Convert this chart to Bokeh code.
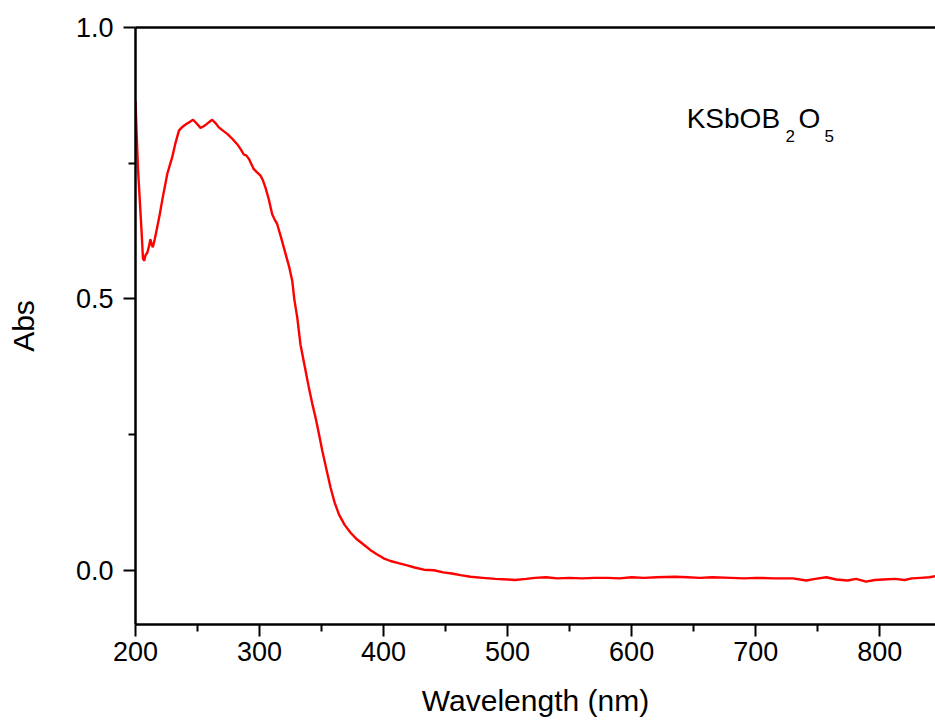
from bokeh.plotting import figure
from bokeh.models import (LinearAxis, FixedTicker, NumeralTickFormatter, Label,
                          Range1d, ColumnDataSource)
from bokeh.embed import file_html
from bokeh.resources import INLINE

wavelength = [200, 201, 202, 203, 204, 205, 206, 207, 208, 209.5, 211, 212, 213, 214,
              215.5, 217.5, 219.5, 221.5, 223.5, 225.6, 227.5, 229.6, 232, 235, 237,
              239, 241, 243, 246.4, 249, 252.4, 255, 257.3, 259.5, 261.8, 264.5, 267.2,
              270.5, 274, 278, 282, 285, 287.3, 289.5, 291.4, 293.5, 295.4, 298, 300.8,
              302.8, 304.8, 307.5, 310.2, 312.2, 314.2, 317.5, 321, 324, 326.4, 328,
              330.4, 333, 336.5, 339.8, 342.5, 345.2, 348, 350.6, 354, 357.3, 360.5,
              364, 368.5, 373.4, 378.5, 384.1, 389.5, 394.9, 400, 405.6, 412, 419, 425,
              432.5, 440.6, 448, 455, 462, 470, 480, 490, 500, 506, 515, 522, 531, 540,
              550, 560, 570, 581, 590, 600, 610, 620, 635, 645, 655, 665, 680, 691, 700,
              715, 730, 740.8, 748, 757, 765, 774, 781, 789, 796, 803, 812.6, 820, 826,
              833, 840, 845]
absorbance = [0.865, 0.80, 0.74, 0.70, 0.66, 0.62, 0.575, 0.570, 0.580, 0.585, 0.598,
              0.610, 0.600, 0.595, 0.610, 0.632, 0.655, 0.681, 0.705, 0.730, 0.745,
              0.761, 0.785, 0.810, 0.815, 0.819, 0.822, 0.825, 0.830, 0.824, 0.815,
              0.818, 0.822, 0.826, 0.830, 0.824, 0.816, 0.810, 0.804, 0.795, 0.785,
              0.775, 0.766, 0.764, 0.758, 0.748, 0.739, 0.733, 0.727, 0.718, 0.705,
              0.683, 0.656, 0.646, 0.638, 0.612, 0.583, 0.558, 0.533, 0.500, 0.466,
              0.416, 0.375, 0.336, 0.307, 0.281, 0.250, 0.220, 0.185, 0.152, 0.125,
              0.103, 0.084, 0.069, 0.057, 0.047, 0.037, 0.029, 0.022, 0.017, 0.013,
              0.009, 0.005, 0.001, 0.000, -0.004, -0.006, -0.009, -0.012, -0.014,
              -0.016, -0.017, -0.018, -0.016, -0.014, -0.013, -0.015, -0.014, -0.015,
              -0.014, -0.014, -0.015, -0.013, -0.014, -0.013, -0.012, -0.013, -0.014,
              -0.013, -0.014, -0.015, -0.014, -0.015, -0.015, -0.019, -0.016, -0.013,
              -0.017, -0.019, -0.016, -0.021, -0.018, -0.017, -0.016, -0.018, -0.015,
              -0.014, -0.013, -0.011]

x_major = [200, 300, 400, 500, 600, 700, 800]
x_minor = [250, 350, 450, 550, 650, 750, 850]
y_major = [0.0, 0.5, 1.0]
y_minor = [0.25, 0.75]

FONT = "Liberation Sans"

p = figure(width=935, height=724, output_backend="svg", toolbar_location=None,
           x_range=Range1d(200, 845), y_range=Range1d(-0.1, 1.0),
           x_axis_location=None, y_axis_location=None,
           min_border_left=135, min_border_right=0, min_border_top=27,
           min_border_bottom=100)
p.outline_line_color = None
p.xgrid.visible = False
p.ygrid.visible = False
p.background_fill_color = "white"
p.border_fill_color = "white"

def style(ax):
    ax.axis_line_color = "black"
    ax.axis_line_width = 2.5
    ax.major_tick_line_color = "black"
    ax.major_tick_line_width = 2
    ax.minor_tick_line_color = "black"
    ax.minor_tick_line_width = 2
    ax.major_tick_out = 12
    ax.major_tick_in = 0
    ax.minor_tick_out = 7
    ax.minor_tick_in = 0
    ax.major_label_text_font = FONT
    ax.major_label_text_font_size = "27px"
    ax.major_label_text_color = "black"
    ax.axis_label_text_font = FONT
    ax.axis_label_text_font_size = "30px"
    ax.axis_label_text_font_style = "normal"
    ax.axis_label_text_color = "black"

xax = LinearAxis(axis_label="Wavelength (nm)",
                 ticker=FixedTicker(ticks=x_major, minor_ticks=x_minor))
style(xax)
xax.major_label_standoff = 5
xax.axis_label_standoff = 20
p.add_layout(xax, "below")

yax = LinearAxis(axis_label="Abs",
                 ticker=FixedTicker(ticks=y_major, minor_ticks=y_minor),
                 formatter=NumeralTickFormatter(format="0.0"))
style(yax)
yax.major_label_standoff = 10
yax.axis_label_standoff = 33
p.add_layout(yax, "left")

top = LinearAxis(ticker=FixedTicker(ticks=[]))
top.axis_line_color = "black"
top.axis_line_width = 2.5
top.major_tick_line_color = None
top.minor_tick_line_color = None
top.major_label_text_color = None
p.add_layout(top, "above")

src = ColumnDataSource(data=dict(x=wavelength, y=absorbance))
p.line("x", "y", source=src, line_color="#ff0000", line_width=2.4)

label_kw = dict(text_font=FONT, text_color="black", text_baseline="bottom")
p.add_layout(Label(x=644.4, y=0.8044, text="KSbOB", text_font_size="28px", **label_kw))
p.add_layout(Label(x=724.1, y=0.7887, text="2", text_font_size="17px", **label_kw))
p.add_layout(Label(x=734.6, y=0.8044, text="O", text_font_size="28px", **label_kw))
p.add_layout(Label(x=755.6, y=0.7887, text="5", text_font_size="17px", **label_kw))

open("out.html", "w").write(file_html(p, INLINE))
